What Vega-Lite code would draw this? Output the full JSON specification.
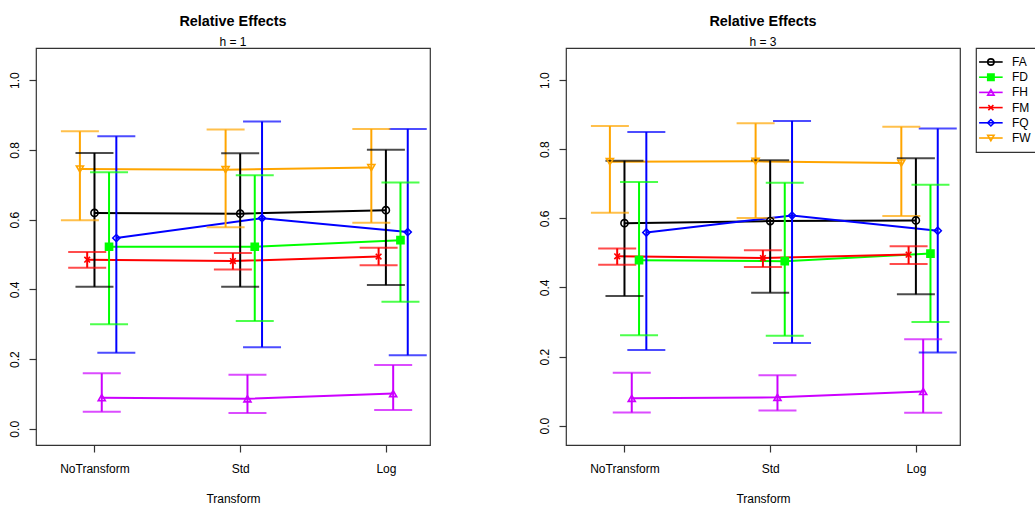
{
  "$schema": "https://vega.github.io/schema/vega-lite/v6.json",
  "padding": {"left": 7, "top": 13, "right": 0, "bottom": 0},
  "background": "white",
  "datasets": {
    "main": [
      {"h": "h = 1", "Transform": "NoTransform", "Series": "FA", "est": 0.619, "lo": 0.407, "hi": 0.791},
      {"h": "h = 1", "Transform": "NoTransform", "Series": "FD", "est": 0.522, "lo": 0.300, "hi": 0.736},
      {"h": "h = 1", "Transform": "NoTransform", "Series": "FH", "est": 0.089, "lo": 0.049, "hi": 0.159},
      {"h": "h = 1", "Transform": "NoTransform", "Series": "FM", "est": 0.485, "lo": 0.462, "hi": 0.507},
      {"h": "h = 1", "Transform": "NoTransform", "Series": "FQ", "est": 0.547, "lo": 0.218, "hi": 0.839},
      {"h": "h = 1", "Transform": "NoTransform", "Series": "FW", "est": 0.745, "lo": 0.598, "hi": 0.853},
      {"h": "h = 1", "Transform": "Std", "Series": "FA", "est": 0.617, "lo": 0.407, "hi": 0.790},
      {"h": "h = 1", "Transform": "Std", "Series": "FD", "est": 0.522, "lo": 0.309, "hi": 0.727},
      {"h": "h = 1", "Transform": "Std", "Series": "FH", "est": 0.086, "lo": 0.045, "hi": 0.155},
      {"h": "h = 1", "Transform": "Std", "Series": "FM", "est": 0.481, "lo": 0.457, "hi": 0.504},
      {"h": "h = 1", "Transform": "Std", "Series": "FQ", "est": 0.604, "lo": 0.234, "hi": 0.881},
      {"h": "h = 1", "Transform": "Std", "Series": "FW", "est": 0.743, "lo": 0.578, "hi": 0.858},
      {"h": "h = 1", "Transform": "Log", "Series": "FA", "est": 0.627, "lo": 0.412, "hi": 0.800},
      {"h": "h = 1", "Transform": "Log", "Series": "FD", "est": 0.541, "lo": 0.364, "hi": 0.706},
      {"h": "h = 1", "Transform": "Log", "Series": "FH", "est": 0.101, "lo": 0.054, "hi": 0.183},
      {"h": "h = 1", "Transform": "Log", "Series": "FM", "est": 0.494, "lo": 0.469, "hi": 0.519},
      {"h": "h = 1", "Transform": "Log", "Series": "FQ", "est": 0.564, "lo": 0.211, "hi": 0.860},
      {"h": "h = 1", "Transform": "Log", "Series": "FW", "est": 0.749, "lo": 0.591, "hi": 0.860},
      {"h": "h = 3", "Transform": "NoTransform", "Series": "FA", "est": 0.586, "lo": 0.375, "hi": 0.767},
      {"h": "h = 3", "Transform": "NoTransform", "Series": "FD", "est": 0.479, "lo": 0.262, "hi": 0.705},
      {"h": "h = 3", "Transform": "NoTransform", "Series": "FH", "est": 0.079, "lo": 0.038, "hi": 0.153},
      {"h": "h = 3", "Transform": "NoTransform", "Series": "FM", "est": 0.490, "lo": 0.466, "hi": 0.513},
      {"h": "h = 3", "Transform": "NoTransform", "Series": "FQ", "est": 0.559, "lo": 0.219, "hi": 0.850},
      {"h": "h = 3", "Transform": "NoTransform", "Series": "FW", "est": 0.764, "lo": 0.616, "hi": 0.867},
      {"h": "h = 3", "Transform": "Std", "Series": "FA", "est": 0.592, "lo": 0.385, "hi": 0.768},
      {"h": "h = 3", "Transform": "Std", "Series": "FD", "est": 0.476, "lo": 0.260, "hi": 0.703},
      {"h": "h = 3", "Transform": "Std", "Series": "FH", "est": 0.082, "lo": 0.044, "hi": 0.146},
      {"h": "h = 3", "Transform": "Std", "Series": "FM", "est": 0.485, "lo": 0.459, "hi": 0.508},
      {"h": "h = 3", "Transform": "Std", "Series": "FQ", "est": 0.608, "lo": 0.239, "hi": 0.882},
      {"h": "h = 3", "Transform": "Std", "Series": "FW", "est": 0.765, "lo": 0.601, "hi": 0.875},
      {"h": "h = 3", "Transform": "Log", "Series": "FA", "est": 0.594, "lo": 0.380, "hi": 0.774},
      {"h": "h = 3", "Transform": "Log", "Series": "FD", "est": 0.498, "lo": 0.300, "hi": 0.697},
      {"h": "h = 3", "Transform": "Log", "Series": "FH", "est": 0.099, "lo": 0.037, "hi": 0.250},
      {"h": "h = 3", "Transform": "Log", "Series": "FM", "est": 0.495, "lo": 0.468, "hi": 0.519},
      {"h": "h = 3", "Transform": "Log", "Series": "FQ", "est": 0.564, "lo": 0.212, "hi": 0.860},
      {"h": "h = 3", "Transform": "Log", "Series": "FW", "est": 0.760, "lo": 0.607, "hi": 0.865}
    ],
    "series": [
      {"Series": "FA"}, {"Series": "FD"}, {"Series": "FH"}, {"Series": "FM"}, {"Series": "FQ"}, {"Series": "FW"}
    ]
  },
  "spacing": 106,
  "hconcat": [
    {
      "width": 394,
      "height": 397,
      "data": {"name": "main"},
      "title": {"text": "Relative Effects", "subtitle": "h = 1"},
      "transform": [{"filter": "datum.h === 'h = 1'"}],
      "encoding": {
        "x": {"field": "Transform", "type": "nominal", "sort": ["NoTransform", "Std", "Log"], "title": "Transform",
              "scale": {"type": "point", "domain": ["NoTransform", "Std", "Log"], "padding": 0.352, "align": 0.57}},
        "xOffset": {"field": "Series", "type": "nominal",
              "scale": {"type": "point", "domain": ["FW", "FM", "FA", "FH", "FD", "FQ"], "range": [-14.57, 21.86], "padding": 0}},
        "color": {"field": "Series", "type": "nominal", "legend": null,
              "scale": {"domain": ["FA", "FD", "FH", "FM", "FQ", "FW"], "range": ["#000000", "#00FF00", "#CC00FF", "#FF0000", "#0000FF", "#FFA500"]}}
      },
      "layer": [
        {"mark": {"type": "line", "strokeWidth": 2},
         "encoding": {"y": {"field": "est", "type": "quantitative", "title": null,
            "scale": {"domain": [-0.0465, 1.092], "nice": false, "zero": false},
            "axis": {"values": [0, 0.2, 0.4, 0.6, 0.8, 1.0], "format": ".1f"}}}},
        {"mark": {"type": "rule", "strokeWidth": 2},
         "encoding": {"y": {"field": "lo", "type": "quantitative", "title": null}, "y2": {"field": "hi"}}},
        {"mark": {"type": "tick", "orient": "horizontal", "size": 38, "thickness": 2},
         "encoding": {"y": {"field": "lo", "type": "quantitative", "title": null}}},
        {"mark": {"type": "tick", "orient": "horizontal", "size": 38, "thickness": 2},
         "encoding": {"y": {"field": "hi", "type": "quantitative", "title": null}}},
        {"mark": {"type": "point", "filled": false, "size": 50, "strokeWidth": 1.6, "opacity": 1},
         "encoding": {"y": {"field": "est", "type": "quantitative", "title": null},
           "shape": {"field": "Series", "type": "nominal", "legend": null,
             "scale": {"domain": ["FA", "FD", "FH", "FM", "FQ", "FW"], "range": ["circle", "square", "triangle-up", "M-0.8,-0.8L0.8,0.8M-0.8,0.8L0.8,-0.8", "diamond", "triangle-down"]}},
           "fill": {"field": "Series", "type": "nominal", "legend": null,
             "scale": {"domain": ["FA", "FD", "FH", "FM", "FQ", "FW"], "range": ["transparent", "#00FF00", "transparent", "transparent", "transparent", "transparent"]}}}}
      ]
    },
    {
      "spacing": 14,
      "hconcat": [
        {
          "width": 394,
          "height": 397,
          "data": {"name": "main"},
          "title": {"text": "Relative Effects", "subtitle": "h = 3"},
          "transform": [{"filter": "datum.h === 'h = 3'"}],
          "encoding": {
            "x": {"field": "Transform", "type": "nominal", "sort": ["NoTransform", "Std", "Log"], "title": "Transform",
                  "scale": {"type": "point", "domain": ["NoTransform", "Std", "Log"], "padding": 0.352, "align": 0.57}},
            "xOffset": {"field": "Series", "type": "nominal",
                  "scale": {"type": "point", "domain": ["FW", "FM", "FA", "FH", "FD", "FQ"], "range": [-14.57, 21.86], "padding": 0}},
            "color": {"field": "Series", "type": "nominal", "legend": null,
                  "scale": {"domain": ["FA", "FD", "FH", "FM", "FQ", "FW"], "range": ["#000000", "#00FF00", "#CC00FF", "#FF0000", "#0000FF", "#FFA500"]}}
          },
          "layer": [
            {"mark": {"type": "line", "strokeWidth": 2},
             "encoding": {"y": {"field": "est", "type": "quantitative", "title": null,
                "scale": {"domain": [-0.056, 1.093], "nice": false, "zero": false},
                "axis": {"values": [0, 0.2, 0.4, 0.6, 0.8, 1.0], "format": ".1f"}}}},
            {"mark": {"type": "rule", "strokeWidth": 2},
             "encoding": {"y": {"field": "lo", "type": "quantitative", "title": null}, "y2": {"field": "hi"}}},
            {"mark": {"type": "tick", "orient": "horizontal", "size": 38, "thickness": 2},
             "encoding": {"y": {"field": "lo", "type": "quantitative", "title": null}}},
            {"mark": {"type": "tick", "orient": "horizontal", "size": 38, "thickness": 2},
             "encoding": {"y": {"field": "hi", "type": "quantitative", "title": null}}},
            {"mark": {"type": "point", "filled": false, "size": 50, "strokeWidth": 1.6, "opacity": 1},
             "encoding": {"y": {"field": "est", "type": "quantitative", "title": null},
               "shape": {"field": "Series", "type": "nominal", "legend": null,
                 "scale": {"domain": ["FA", "FD", "FH", "FM", "FQ", "FW"], "range": ["circle", "square", "triangle-up", "M-0.8,-0.8L0.8,0.8M-0.8,0.8L0.8,-0.8", "diamond", "triangle-down"]}},
               "fill": {"field": "Series", "type": "nominal", "legend": null,
                 "scale": {"domain": ["FA", "FD", "FH", "FM", "FQ", "FW"], "range": ["transparent", "#00FF00", "transparent", "transparent", "transparent", "transparent"]}}}}
          ]
        },
        {
          "width": 62,
          "height": 104,
          "data": {"name": "series"},
          "title": {"text": " ", "subtitle": " "},
          "encoding": {
            "y": {"field": "Series", "type": "nominal", "axis": null,
                  "scale": {"type": "point", "domain": ["FA", "FD", "FH", "FM", "FQ", "FW"], "padding": 0.92}}
          },
          "layer": [
            {"mark": {"type": "rule", "strokeWidth": 1.6},
             "encoding": {"x": {"datum": 0.05, "type": "quantitative", "scale": {"domain": [0, 1]}, "axis": null}, "x2": {"datum": 0.43},
               "color": {"field": "Series", "type": "nominal", "legend": null,
                 "scale": {"domain": ["FA", "FD", "FH", "FM", "FQ", "FW"], "range": ["#000000", "#00FF00", "#CC00FF", "#FF0000", "#0000FF", "#FFA500"]}}}},
            {"mark": {"type": "point", "filled": false, "size": 40, "strokeWidth": 1.6, "opacity": 1},
             "encoding": {"x": {"datum": 0.24, "type": "quantitative"},
               "color": {"field": "Series", "type": "nominal", "legend": null,
                 "scale": {"domain": ["FA", "FD", "FH", "FM", "FQ", "FW"], "range": ["#000000", "#00FF00", "#CC00FF", "#FF0000", "#0000FF", "#FFA500"]}},
               "shape": {"field": "Series", "type": "nominal", "legend": null,
                 "scale": {"domain": ["FA", "FD", "FH", "FM", "FQ", "FW"], "range": ["circle", "square", "triangle-up", "M-0.8,-0.8L0.8,0.8M-0.8,0.8L0.8,-0.8", "diamond", "triangle-down"]}},
               "fill": {"field": "Series", "type": "nominal", "legend": null,
                 "scale": {"domain": ["FA", "FD", "FH", "FM", "FQ", "FW"], "range": ["white", "#00FF00", "white", "white", "white", "white"]}}}},
            {"mark": {"type": "text", "align": "left", "baseline": "middle", "fontSize": 12, "color": "black"},
             "encoding": {"x": {"datum": 0.58, "type": "quantitative"}, "text": {"field": "Series"}}}
          ]
        }
      ]
    }
  ],
  "config": {
    "font": "Liberation Sans",
    "view": {"stroke": "#333333", "strokeWidth": 1.2},
    "axis": {"domain": false, "grid": false, "tickColor": "#333333", "tickSize": 7, "tickWidth": 1.2,
             "labelColor": "black", "labelFontSize": 12, "labelFont": "Liberation Sans",
             "titleFont": "Liberation Sans", "titleFontSize": 12, "titleFontWeight": "normal", "titleColor": "black"},
    "axisY": {"labelAngle": 270, "labelAlign": "center", "labelBaseline": "bottom", "labelPadding": 8},
    "axisX": {"labelPadding": 11, "titlePadding": 19, "labelAngle": 0},
    "title": {"font": "Liberation Sans", "fontSize": 14.4, "fontWeight": "bold", "color": "black",
              "subtitleFont": "Liberation Sans", "subtitleFontSize": 12, "subtitleColor": "black",
              "subtitlePadding": 8, "offset": -1, "anchor": "middle"}
  }
}
